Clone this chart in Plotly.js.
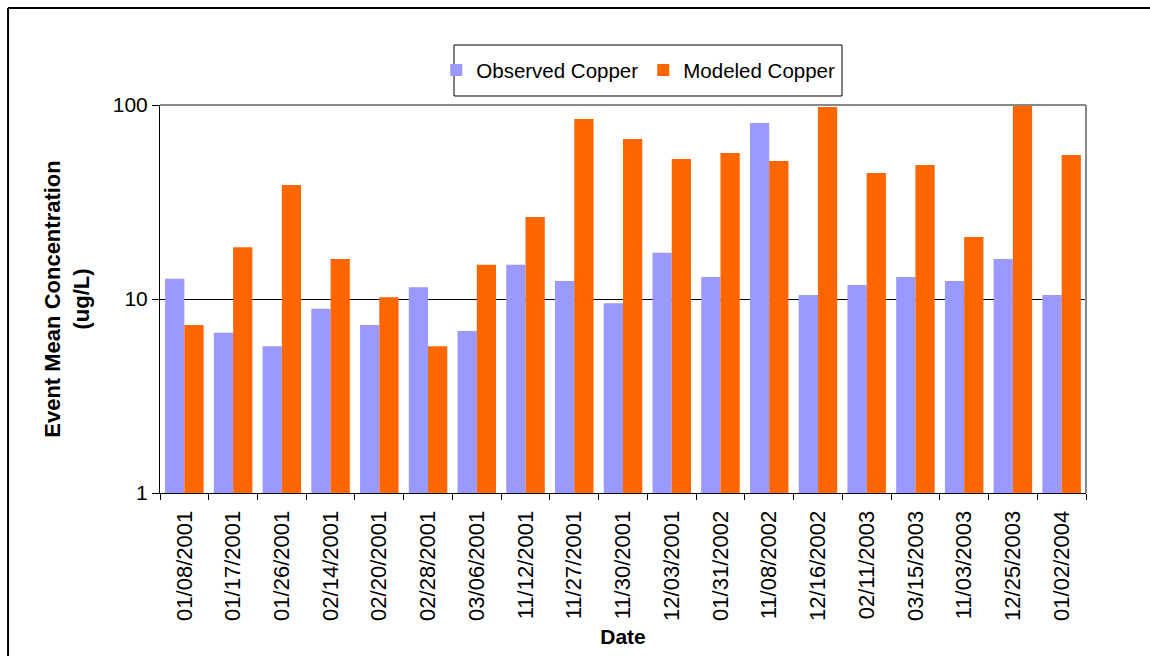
<!DOCTYPE html>
<html>
<head>
<meta charset="utf-8">
<script src="https://cdn.plot.ly/plotly-3.0.1.min.js"></script>
<style>
html,body{margin:0;padding:0;background:#fff;}
#chart{width:1150px;height:656px;}
</style>
</head>
<body>
<div id="chart"></div>
<script>
var dates = ["01/08/2001","01/17/2001","01/26/2001","02/14/2001","02/20/2001","02/28/2001","03/06/2001","11/12/2001","11/27/2001","11/30/2001","12/03/2001","01/31/2002","11/08/2002","12/16/2002","02/11/2003","03/15/2003","11/03/2003","12/25/2003","01/02/2004"];
var observedCopper = [12.7, 6.7, 5.7, 8.9, 7.35, 11.5, 6.85, 15.0, 12.4, 9.5, 17.3, 13.0, 80.8, 10.5, 11.8, 13.0, 12.4, 16.1, 10.5];
var modeledCopper = [7.35, 18.5, 38.7, 16.1, 10.2, 5.7, 15.0, 26.5, 84.7, 66.8, 52.7, 56.6, 51.4, 97.7, 44.6, 49.1, 20.9, 100, 55.2];
var seriesNames = ["Observed Copper", "Modeled Copper"];
var yTickVals = [1, 10, 100];
var yTickText = ["1", "10", "100"];

var FONT = "Arial, 'Liberation Sans', sans-serif";

var traces = [
  {type:"bar", name:seriesNames[0], x:dates, y:observedCopper, marker:{color:"#9999FF"}},
  {type:"bar", name:seriesNames[1], x:dates, y:modeledCopper, marker:{color:"#FF6600"}}
];

var layout = {
  width:1150, height:656,
  margin:{l:160, r:64, t:105, b:163, pad:0},
  paper_bgcolor:"#fff", plot_bgcolor:"#fff",
  font:{family:FONT, size:21, color:"#000"},
  barmode:"group", bargap:0.21, bargroupgap:0,
  showlegend:true,
  legend:{orientation:"h", x:0.5165, y:1.09, xanchor:"center", yanchor:"middle",
          bgcolor:"rgba(0,0,0,0)", borderwidth:0, font:{family:FONT, size:20.5, color:"#000"},
          traceorder:"normal", itemclick:false},
  xaxis:{type:"category", tickangle:-90, ticks:"outside", tickson:"boundaries", ticklen:6,
         tickcolor:"#000", showline:true, linecolor:"#000", linewidth:1, showgrid:false,
         ticklabelstandoff:8,
         tickfont:{family:FONT, size:22, color:"#000"},
         title:{text:"<b>Date</b>", font:{family:FONT, size:21, color:"#000"}, standoff:9}},
  yaxis:{type:"log", range:[0,2], tickvals:yTickVals, ticktext:yTickText, ticks:"outside",
         ticklen:7, tickcolor:"#000", showline:true, linecolor:"#000", linewidth:1,
         showgrid:true, gridcolor:"#000", gridwidth:1, zeroline:false,
         tickfont:{family:FONT, size:21, color:"#000"},
         title:{text:"<b>Event Mean Concentration<br>(ug/L)</b>", font:{family:FONT, size:22, color:"#000"}, standoff:17}},
  shapes:[
    {type:"line", xref:"paper", yref:"paper", x0:0, x1:1, y0:1, y1:1, line:{color:"#888", width:2}, layer:"above"},
    {type:"line", xref:"paper", yref:"paper", x0:1, x1:1, y0:0, y1:1, line:{color:"#888", width:2}, layer:"above"},
    {type:"rect", xref:"paper", yref:"paper", x0:0.3175, x1:0.7365, y0:1.0232, y1:1.1546, line:{color:"#000", width:1}, fillcolor:"rgba(0,0,0,0)", layer:"above"},
    {type:"line", xref:"paper", yref:"paper", x0:-0.1641, x1:1.2, y0:1.25, y1:1.25, line:{color:"#000", width:2}},
    {type:"line", xref:"paper", yref:"paper", x0:-0.1641, x1:-0.1641, y0:1.25, y1:-0.5, line:{color:"#000", width:2}}
  ]
};

Plotly.newPlot("chart", traces, layout, {displayModeBar:false, staticPlot:true});
</script>
</body>
</html>
